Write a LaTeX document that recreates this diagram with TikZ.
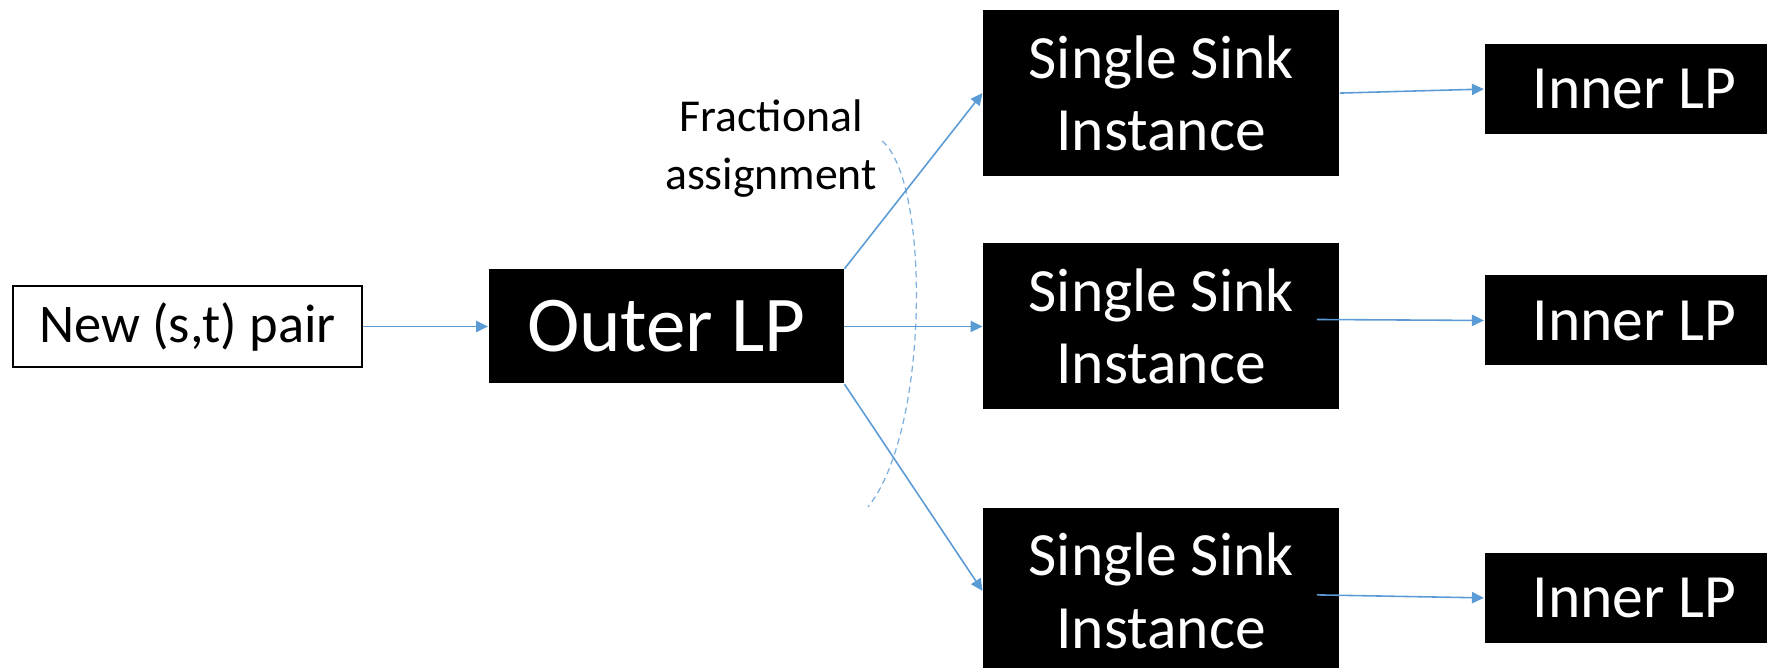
\documentclass[tikz,border=0pt]{standalone}
\usepackage{fontspec}
\setmainfont{Carlito}
\usetikzlibrary{arrows.meta, positioning, calc}
\usepackage{xcolor}
\definecolor{linkblue}{RGB}{91, 155, 213}

\begin{document}
\begin{tikzpicture}[
  node distance = 0.66cm and 1.38cm,
  blackbox/.style = {rectangle, fill=black, text=white, inner sep=0pt,
                     align=center},
  pairbox/.style  = {rectangle, draw=black, line width=0.6pt, inner sep=0pt,
                     minimum width=3.49cm, minimum height=0.81cm,
                     font=\fontsize{15.5}{18}\selectfont},
  outerbox/.style = {blackbox, minimum width=3.55cm, minimum height=1.14cm,
                     font=\fontsize{22.5}{27}\selectfont},
  sinkbox/.style  = {blackbox, minimum width=3.56cm, minimum height=1.66cm,
                     font=\fontsize{17.5}{20.5}\selectfont},
  innerbox/.style = {blackbox, minimum width=3.0cm, minimum height=0.9cm,
                     font=\fontsize{17.5}{20.5}\selectfont},
  note/.style     = {align=center, font=\fontsize{13}{16.5}\selectfont},
  arr/.style      = {-{Triangle[length=3.4pt, width=3.2pt]}, linkblue,
                     line width=0.45pt},
  bracket/.style  = {linkblue!80, line width=0.35pt,
                     dash pattern=on 1.8pt off 1.2pt}
]
\useasboundingbox (0,0) rectangle (17.67,6.68);

% input and outer LP
\node[pairbox] (pair) at (1.875,3.415) {New (s,t) pair};
\node[outerbox, right=1.25cm of pair] (outer) {Outer LP};

% single sink instances
\node[sinkbox, right=1.38cm of outer] (sink2) {Single Sink\\Instance};
\node[sinkbox, above=of sink2]         (sink1) {Single Sink\\Instance};
\node[sinkbox, below=0.97cm of sink2]  (sink3) {Single Sink\\Instance};

% inner LPs
\node[innerbox, right=1.44cm of sink1, yshift=0.04cm]  (inner1) {Inner LP};
\node[innerbox, right=1.44cm of sink2, yshift=0.06cm]  (inner2) {Inner LP};
\node[innerbox, right=1.44cm of sink3, yshift=-0.07cm] (inner3) {Inner LP};

% fractional assignment bracket
\node[note] (frac) at (7.71,5.19) {Fractional\\assignment};
\coordinate (brtop) at (8.82,5.27);
\coordinate (brbot) at (8.68,1.61);
\draw[bracket] (brtop) .. controls (9.30,4.88) and (9.30,2.38) .. (brbot);

\draw[arr] (pair)              -- (outer);
\draw[arr] (outer.north east)  -- (sink1.west);
\draw[arr] (outer)             -- (sink2);
\draw[arr] (outer.south east)  -- (sink3.west);
\draw[arr] (sink1.east) -- (inner1.west);
\draw[arr] ([xshift=-0.23cm, yshift=0.07cm]sink2.east)  -- (inner2.west);
\draw[arr] ([xshift=-0.23cm, yshift=-0.04cm]sink3.east) -- (inner3.west);
\end{tikzpicture}
\end{document}
